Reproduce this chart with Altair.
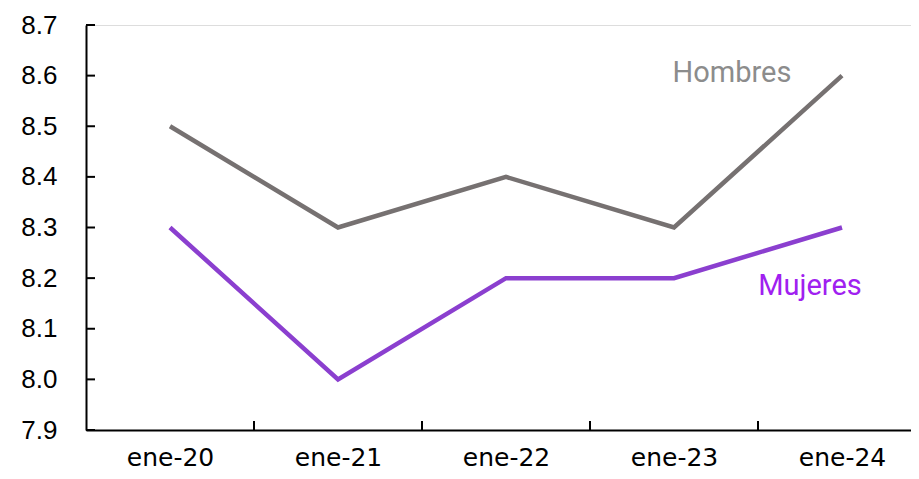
import json
import altair as alt
import pandas as pd

categories = ["ene-20", "ene-21", "ene-22", "ene-23", "ene-24"]
hombres = [8.5, 8.3, 8.4, 8.3, 8.6]
mujeres = [8.3, 8.0, 8.2, 8.2, 8.3]
y_ticks = [7.9, 8.0, 8.1, 8.2, 8.3, 8.4, 8.5, 8.6, 8.7]
series_names = ["Hombres", "Mujeres"]
series_colors = ["#767171", "#8B3FCF"]

W, H = 825, 405

rows = []
for i, c in enumerate(categories):
    rows.append({"idx": i, "cat": c, "serie": "Hombres", "valor": hombres[i]})
    rows.append({"idx": i, "cat": c, "serie": "Mujeres", "valor": mujeres[i]})
df = pd.DataFrame(rows)

xscale = alt.Scale(domain=[-0.5, -0.5 + W / 168.0], nice=False, zero=False)
yscale = alt.Scale(domain=[7.9, 8.7], nice=False, zero=False)

label_expr = json.dumps(categories) + "[datum.value]"

x_axis = alt.Axis(
    values=list(range(len(categories))), labelExpr=label_expr, ticks=False, tickSize=0,
    grid=False, domainColor="black", domainWidth=2, labelFont="DejaVu Sans",
    labelFontSize=25, labelColor="black", labelBaseline="alphabetic", labelPadding=35,
    title=None, labelOverlap=False,
)
y_axis = alt.Axis(
    values=y_ticks, format=".1f", ticks=False, tickSize=0, grid=False,
    domainColor="black", domainWidth=2, labelFont="Liberation Sans", labelFontSize=26,
    labelColor="black", labelPadding=29, title=None, labelOverlap=False,
)

lines = alt.Chart(df).mark_line(strokeWidth=4.5).encode(
    x=alt.X("idx:Q", scale=xscale, axis=x_axis),
    y=alt.Y("valor:Q", scale=yscale, axis=y_axis),
    color=alt.Color("serie:N", scale=alt.Scale(domain=series_names, range=series_colors), legend=None),
    detail="serie:N",
)

ytick_df = pd.DataFrame({"v": y_ticks})
ytick_rules = alt.Chart(ytick_df).mark_rule(color="black", strokeWidth=2).encode(
    y=alt.Y("v:Q", scale=yscale), x=alt.value(0), x2=alt.value(9)
)

bounds_df = pd.DataFrame({"b": [i + 0.5 for i in range(len(categories) - 1)]})
xtick_rules = alt.Chart(bounds_df).mark_rule(color="black", strokeWidth=2).encode(
    x=alt.X("b:Q", scale=xscale), y=alt.value(H - 9), y2=alt.value(H)
)

lab_h = pd.DataFrame({"idx": [len(categories) - 1], "valor": [hombres[-1]], "t": ["Hombres"]})
lab_m = pd.DataFrame({"idx": [len(categories) - 1], "valor": [mujeres[-1]], "t": ["Mujeres"]})

txt_h = alt.Chart(lab_h).mark_text(
    font="Roboto", fontSize=29, color="#8C8C8C", align="center", baseline="alphabetic", dx=-110, dy=6
).encode(x=alt.X("idx:Q", scale=xscale), y=alt.Y("valor:Q", scale=yscale), text="t:N")
txt_m = alt.Chart(lab_m).mark_text(
    font="Roboto", fontSize=29, color="#A020F0", align="center", baseline="alphabetic", dx=-32, dy=67
).encode(x=alt.X("idx:Q", scale=xscale), y=alt.Y("valor:Q", scale=yscale), text="t:N")

chart = alt.layer(lines, ytick_rules, xtick_rules, txt_h, txt_m).properties(
    width=W, height=H,
    autosize=alt.AutoSizeParams(type="none"),
    padding={"left": 78, "top": 17, "right": 0, "bottom": 41},
).configure_view(stroke=None).configure(background="white")

chart.save("out.html", embed_options={"renderer": "svg", "actions": False})
